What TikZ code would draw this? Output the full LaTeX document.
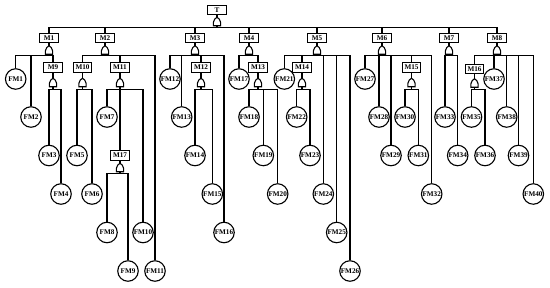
\documentclass[tikz,border=0pt]{standalone}
\usepackage{fontspec}
\setmainfont{Liberation Serif}

\begin{document}
\begin{tikzpicture}[
  x=1pt, y=-1pt,
  font=\fontsize{7.2}{8}\selectfont\bfseries,
  event/.style={rectangle, draw, line width=1.1pt, minimum width=18.5pt, minimum height=9.5pt, inner sep=1pt},
  basic/.style={circle, draw, line width=1.1pt, minimum size=20.5pt, inner sep=0pt},
  link/.style={line width=1.1pt},
  gate/.pic={
    \draw[link] (-3.6,8.5) -- (-3.6,5) .. controls (-3.6,2.2) and (-1.2,0.8) .. (0,0)
      .. controls (1.2,0.8) and (3.6,2.2) .. (3.6,5) -- (3.6,8.5) -- cycle;
    \coordinate (-top) at (0,0);
    \coordinate (-out) at (0,8.5);
  }
]
\useasboundingbox (0,0) rectangle (550,288);

% top event and intermediate events
\node[event] (T) at (217,10) {T};
\node[event] (M1) at (49,38) {M1};
\node[event] (M2) at (105,38) {M2};
\node[event] (M3) at (195,38) {M3};
\node[event] (M4) at (249,38) {M4};
\node[event] (M5) at (317,38) {M5};
\node[event] (M6) at (382,38) {M6};
\node[event] (M7) at (449,38) {M7};
\node[event] (M8) at (497,38) {M8};
\node[event] (M9) at (53,67.5) {M9};
\node[event] (M10) at (82.5,67.5) {M10};
\node[event] (M11) at (120,67.5) {M11};
\node[event] (M12) at (201,67.5) {M12};
\node[event] (M13) at (258,67.5) {M13};
\node[event] (M14) at (302,67.5) {M14};
\node[event] (M15) at (411.5,67.5) {M15};
\node[event] (M16) at (474.5,69) {M16};
\node[event] (M17) at (120,155.5) {M17};

% gates
\pic (gT) at ([yshift=-2pt]T.south) {gate};
\foreach \m in {M1,M2,M3,M4,M5,M6,M7,M8,M17}
  \pic (g\m) at ([yshift=-2.5pt]\m.south) {gate};
\foreach \m in {M9,M10,M11,M12,M13,M14,M15}
  \pic (g\m) at ([yshift=-5.5pt]\m.south) {gate};
\pic (gM16) at ([yshift=-4.5pt]M16.south) {gate};
\foreach \m in {T,M1,M2,M3,M4,M5,M6,M7,M8,M9,M10,M11,M12,M13,M14,M15,M16,M17}
  \draw[link] (\m.south) -- (g\m-top);

% basic events
\node[basic] (FM1) at (15.7,79) {FM1};
\node[basic] (FM2) at (31,117) {FM2};
\node[basic] (FM3) at (49,155.5) {FM3};
\node[basic] (FM4) at (61,194) {FM4};
\node[basic] (FM5) at (77,155.5) {FM5};
\node[basic] (FM6) at (92,194) {FM6};
\node[basic] (FM7) at (107,117) {FM7};
\node[basic] (FM8) at (107,232.5) {FM8};
\node[basic] (FM9) at (128,271) {FM9};
\node[basic] (FM10) at (143,232.5) {FM10};
\node[basic] (FM11) at (155,271) {FM11};
\node[basic] (FM12) at (170,79) {FM12};
\node[basic] (FM13) at (181.7,117) {FM13};
\node[basic] (FM14) at (195,155.5) {FM14};
\node[basic] (FM15) at (212.3,194) {FM15};
\node[basic] (FM16) at (224,232.5) {FM16};
\node[basic] (FM17) at (239,79) {FM17};
\node[basic] (FM18) at (249,117) {FM18};
\node[basic] (FM19) at (263.3,155.5) {FM19};
\node[basic] (FM20) at (277.7,194) {FM20};
\node[basic] (FM21) at (284.3,79) {FM21};
\node[basic] (FM22) at (296.7,117) {FM22};
\node[basic] (FM23) at (310,155.5) {FM23};
\node[basic] (FM24) at (323.3,194) {FM24};
\node[basic] (FM25) at (336.7,232.5) {FM25};
\node[basic] (FM26) at (350,271) {FM26};
\node[basic] (FM27) at (365,79) {FM27};
\node[basic] (FM28) at (379,117) {FM28};
\node[basic] (FM29) at (391,155.5) {FM29};
\node[basic] (FM30) at (405,117) {FM30};
\node[basic] (FM31) at (418.3,155.5) {FM31};
\node[basic] (FM32) at (431.7,194) {FM32};
\node[basic] (FM33) at (445,117) {FM33};
\node[basic] (FM34) at (457.7,155.5) {FM34};
\node[basic] (FM35) at (471.5,117) {FM35};
\node[basic] (FM36) at (485,155.5) {FM36};
\node[basic] (FM37) at (494,79) {FM37};
\node[basic] (FM38) at (506.7,117) {FM38};
\node[basic] (FM39) at (518.5,155.5) {FM39};
\node[basic] (FM40) at (533.3,194) {FM40};

% connections
\foreach \c in {M1,M2,M3,M4,M5,M6,M7,M8} \draw[link] (gT-out) -- ++(0,2) -| (\c);
\foreach \c in {FM1,FM2,M9} \draw[link] (gM1-out) -- ++(0,1.5) -| (\c);
\foreach \c in {M10,M11,FM11} \draw[link] (gM2-out) -- ++(0,1.5) -| (\c);
\foreach \c in {FM12,FM13,M12,FM16} \draw[link] (gM3-out) -- ++(0,1.5) -| (\c);
\foreach \c in {FM17,M13} \draw[link] (gM4-out) -- ++(0,1.5) -| (\c);
\foreach \c in {FM21,M14,FM24,FM25,FM26} \draw[link] (gM5-out) -- ++(0,1.5) -| (\c);
\foreach \c in {FM27,FM28,FM29,M15,FM32} \draw[link] (gM6-out) -- ++(0,1.5) -| (\c);
\foreach \c in {FM33,FM34} \draw[link] (gM7-out) -- ++(0,1.5) -| (\c);
\foreach \c in {M16,FM37,FM38,FM39,FM40} \draw[link] (gM8-out) -- ++(0,1.5) -| (\c);
\foreach \c in {FM3,FM4} \draw[link] (gM9-out) -- ++(0,2.5) -| (\c);
\foreach \c in {FM5,FM6} \draw[link] (gM10-out) -- ++(0,2.5) -| (\c);
\foreach \c in {FM7,M17,FM10} \draw[link] (gM11-out) -- ++(0,2.5) -| (\c);
\foreach \c in {FM14,FM15} \draw[link] (gM12-out) -- ++(0,2.5) -| (\c);
\foreach \c in {FM18,FM19,FM20} \draw[link] (gM13-out) -- ++(0,2.5) -| (\c);
\foreach \c in {FM22,FM23} \draw[link] (gM14-out) -- ++(0,2.5) -| (\c);
\foreach \c in {FM30,FM31} \draw[link] (gM15-out) -- ++(0,2.5) -| (\c);
\foreach \c in {FM35,FM36} \draw[link] (gM16-out) -- ++(0,2) -| (\c);
\foreach \c in {FM8,FM9} \draw[link] (gM17-out) -- ++(0,2) -| (\c);
\end{tikzpicture}
\end{document}
